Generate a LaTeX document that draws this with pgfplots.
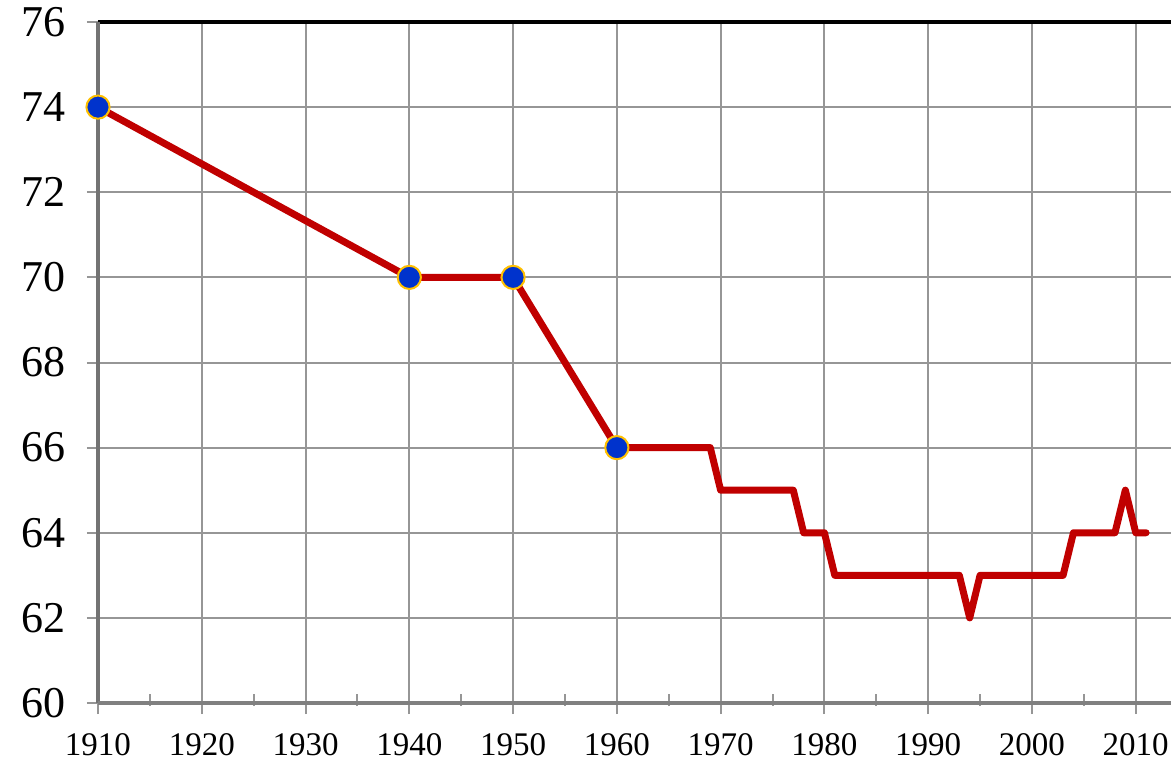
\documentclass[border=0pt]{standalone}
\usepackage{fontspec}
\setmainfont{Liberation Serif}
\usepackage{pgfplots}
\pgfplotsset{compat=1.18}
\definecolor{redline}{RGB}{192,0,0}
\definecolor{gridc}{RGB}{150,150,150}
\definecolor{mblue}{RGB}{0,51,204}
\definecolor{mgold}{RGB}{255,192,0}
\begin{document}
\begin{tikzpicture}
\begin{axis}[
  name=ax,
  scale only axis,
  width=536.5pt, height=340.5pt,
  xmin=1910, xmax=2013.4,
  ymin=60, ymax=76,
  xtick={1910,1920,...,2010},
  ytick={60,62,...,76},
  minor x tick num=1,
  xtick pos=bottom, ytick pos=left,
  grid=major,
  major grid style={gridc, line width=1pt},
  axis line style={draw=none},
  tick align=center,
  major tick length=11pt,
  minor tick length=6pt,
  minor x tick style={yshift=1.5pt},
  tick style={gridc, line width=1pt},
  /pgf/number format/assume math mode=true,
  /pgf/number format/1000 sep={},
  xticklabel style={font=\fontsize{16.5}{16.5}\selectfont, yshift=-6pt},
  yticklabel style={font=\fontsize{22}{22}\selectfont, xshift=-7pt},
  clip=false,
]
\addplot[redline, line width=3.5pt, line join=round, line cap=round] coordinates {
(1910,74)(1940,70)(1950,70)(1960,66)(1969,66)(1970,65)(1977,65)(1978,64)(1980,64)(1981,63)(1993,63)(1994,62)(1995,63)(2003,63)(2004,64)(2008,64)(2009,65)(2010,64)(2011,64)
};
\addplot[only marks, mark=*, mark size=5.8pt, mark options={fill=mblue, draw=mgold, line width=1pt}] coordinates {
(1910,74)(1940,70)(1950,70)(1960,66)
};
\draw[black, line width=2pt] (rel axis cs:0,1) -- (rel axis cs:1,1);
\draw[gray!90!black, line width=1.6pt] (rel axis cs:0,0) -- (rel axis cs:0,1);
\draw[gray, line width=2pt] (rel axis cs:0,0) -- (rel axis cs:1,0);
\end{axis}
\pgfresetboundingbox
\path[use as bounding box] ([shift={(-49pt,-28.5pt)}]ax.south west) rectangle ([shift={(0pt,11pt)}]ax.north east);
\end{tikzpicture}
\end{document}
